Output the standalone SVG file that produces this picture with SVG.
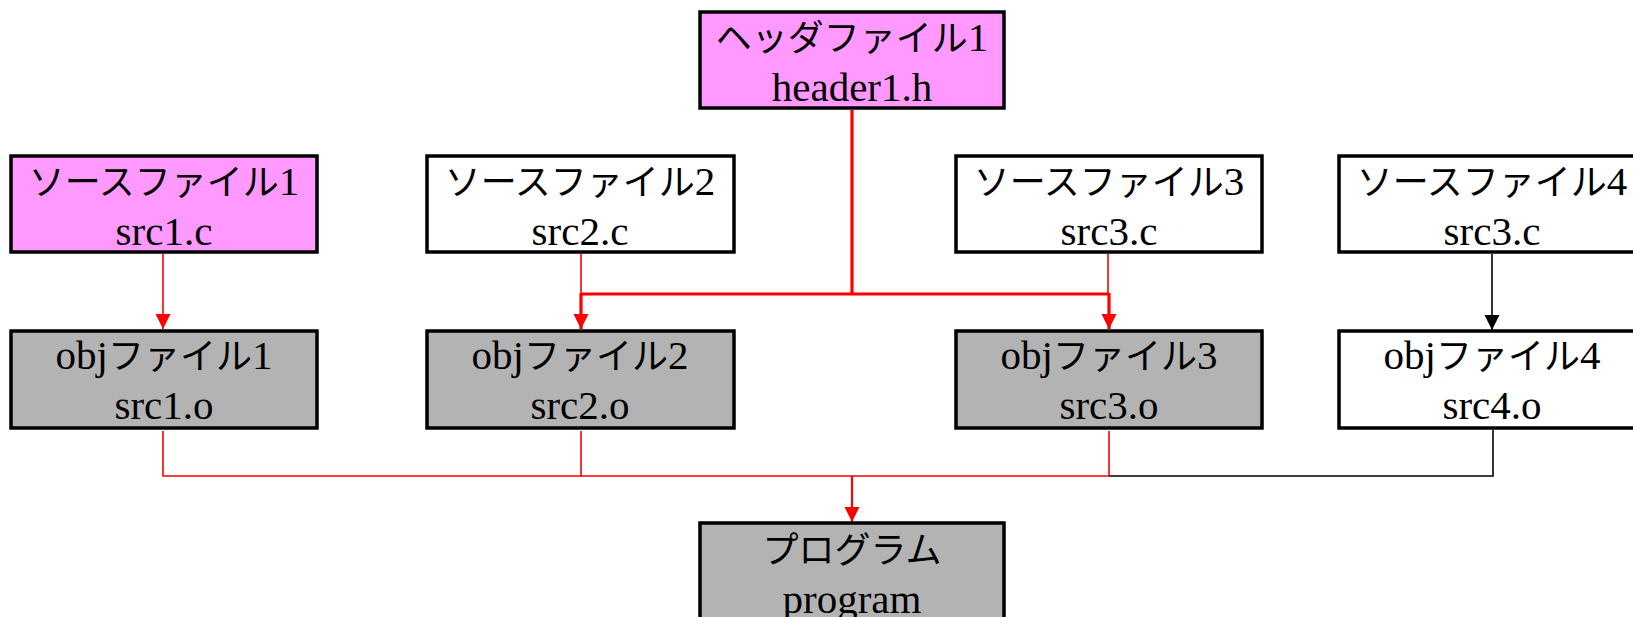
<svg xmlns="http://www.w3.org/2000/svg" width="1633" height="617" viewBox="0 0 1633 617">
<style>
.box{stroke:#000;stroke-width:3.5}
.pink{fill:#ff99ff}
.white{fill:#fff}
.gray{fill:#b3b3b3}
text{font-family:"Liberation Serif","Noto Sans CJK JP",serif;font-size:41px;text-anchor:middle;fill:#000}
.ja{font-family:"Noto Sans CJK JP","Liberation Serif",sans-serif;font-size:36px}
.num{font-family:"Liberation Serif",serif;font-size:41px}
.r1{stroke:#f00;stroke-width:1.6;fill:none}
.r3{stroke:#f00;stroke-width:3.2;fill:none}
.r2{stroke:#f00;stroke-width:2.2;fill:none}
.k1{stroke:#000;stroke-width:1.6;fill:none}
</style>
<defs>
<marker id="ar" markerUnits="userSpaceOnUse" markerWidth="16" markerHeight="16" refX="15" refY="7.5" orient="auto"><path d="M0,0 L15,7.5 L0,15 z" fill="#f00"/></marker>
<marker id="ak" markerUnits="userSpaceOnUse" markerWidth="16" markerHeight="16" refX="15" refY="7.5" orient="auto"><path d="M0,0 L15,7.5 L0,15 z" fill="#000"/></marker>
</defs>
<rect width="1633" height="617" fill="#fff"/>
<g id="connectors">
<line class="r1" x1="163" y1="254" x2="163" y2="329" marker-end="url(#ar)"/>
<line class="r1" x1="581" y1="254" x2="581" y2="294"/>
<line class="r1" x1="1108" y1="254" x2="1108" y2="294"/>
<path class="r3" d="M852,110 V294"/>
<path class="r3" d="M581,294 H1109"/>
<line class="r3" x1="581" y1="293" x2="581" y2="329" marker-end="url(#ar)"/>
<line class="r3" x1="1109" y1="293" x2="1109" y2="329" marker-end="url(#ar)"/>
<line class="k1" x1="1492" y1="254" x2="1492" y2="330" marker-end="url(#ak)"/>
<path class="r1" d="M163,431 V476 H1109"/>
<path class="r1" d="M581,431 V476"/>
<path class="r1" d="M1109,431 V476"/>
<path class="k1" d="M1493,430 V476 H1109"/>
<line class="r2" x1="852" y1="476" x2="852" y2="522" marker-end="url(#ar)"/>
</g>
<g id="header1">
<rect class="box pink" x="700" y="12" width="304" height="96"/>
<text x="852" y="51"><tspan class="ja">ヘッダファイル</tspan><tspan class="num">1</tspan></text>
<text x="852" y="101">header1.h</text>
</g>
<g id="src1">
<rect class="box pink" x="11" y="156" width="306" height="96"/>
<text x="164" y="195"><tspan class="ja">ソースファイル</tspan><tspan class="num">1</tspan></text>
<text x="164" y="245">src1.c</text>
</g>
<g id="src2">
<rect class="box white" x="427" y="156" width="307" height="96"/>
<text x="580" y="195"><tspan class="ja">ソースファイル</tspan><tspan class="num">2</tspan></text>
<text x="580" y="245">src2.c</text>
</g>
<g id="src3">
<rect class="box white" x="956" y="156" width="306" height="96"/>
<text x="1109" y="195"><tspan class="ja">ソースファイル</tspan><tspan class="num">3</tspan></text>
<text x="1109" y="245">src3.c</text>
</g>
<g id="src4">
<rect class="box white" x="1339" y="156" width="306" height="96"/>
<text x="1492" y="195"><tspan class="ja">ソースファイル</tspan><tspan class="num">4</tspan></text>
<text x="1492" y="245">src3.c</text>
</g>
<g id="obj1">
<rect class="box gray" x="11" y="331" width="306" height="97"/>
<text x="164" y="369">obj<tspan class="ja">ファイル</tspan><tspan class="num">1</tspan></text>
<text x="164" y="419">src1.o</text>
</g>
<g id="obj2">
<rect class="box gray" x="427" y="331" width="307" height="97"/>
<text x="580" y="369">obj<tspan class="ja">ファイル</tspan><tspan class="num">2</tspan></text>
<text x="580" y="419">src2.o</text>
</g>
<g id="obj3">
<rect class="box gray" x="956" y="331" width="306" height="97"/>
<text x="1109" y="369">obj<tspan class="ja">ファイル</tspan><tspan class="num">3</tspan></text>
<text x="1109" y="419">src3.o</text>
</g>
<g id="obj4">
<rect class="box white" x="1339" y="331" width="306" height="97"/>
<text x="1492" y="369">obj<tspan class="ja">ファイル</tspan><tspan class="num">4</tspan></text>
<text x="1492" y="419">src4.o</text>
</g>
<g id="program">
<rect class="box gray" x="700" y="523" width="304" height="100"/>
<text x="852" y="563"><tspan class="ja">プログラム</tspan></text>
<text x="852" y="613">program</text>
</g>
</svg>
